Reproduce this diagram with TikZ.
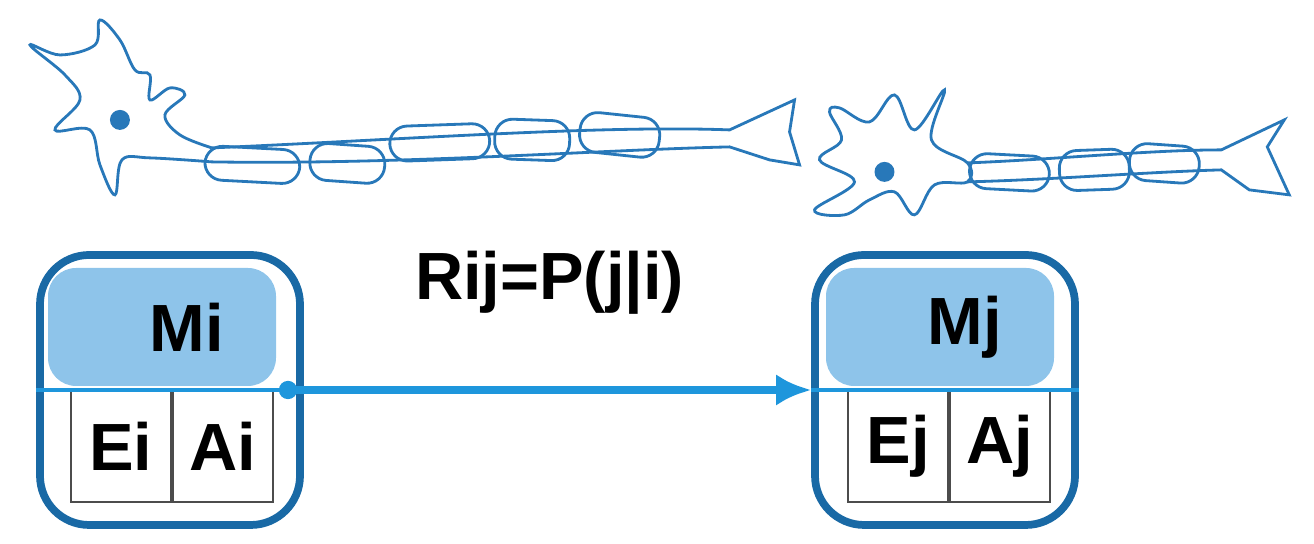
\documentclass[tikz,border=0pt]{standalone}
\usepackage{fontspec}
\setmainfont{Liberation Sans}
\usetikzlibrary{positioning, arrows.meta, calc}
\definecolor{boxblue}{RGB}{25,105,165}
\definecolor{headblue}{RGB}{142,196,234}
\definecolor{arrblue}{RGB}{30,150,220}
\definecolor{nrnblue}{RGB}{40,120,185}
\tikzset{
   outerbox/.style={draw=boxblue, line width=2.2pt, rounded corners=14pt, minimum width=2.6cm, minimum height=2.7cm},
   headbox/.style={fill=headblue, rounded corners=8pt, minimum width=2.28cm, minimum height=1.18cm, font=\bfseries\fontsize{19}{19}\selectfont},
   cellbox/.style={draw=black!70, line width=.5pt, minimum width=1cm, minimum height=1.12cm, inner sep=0pt, font=\bfseries\fontsize{19}{19}\selectfont},
   nrn/.style={draw=nrnblue, line width=.8pt},
   myelin/.style={nrn, rounded corners=5pt}
}
\begin{document}
\begin{tikzpicture}
\useasboundingbox (0,0) rectangle (13.14,5.44);
% neurons, drawn in pixel units
\begin{scope}[shift={(0,5.44)}, x=0.01cm, y=-0.01cm]
  \draw[nrn] plot[smooth, tension=.6] coordinates {(212,148) (180,135) (165,115) (185,95) (170,88) (150,100) (150,75) (135,70) (120,40) (100,20) (95,45) (60,55) (30,45) (65,75) (80,100) (55,130) (90,130) (100,165) (115,195) (122,160) (150,158) (212,162)};
  \fill[nrnblue] (120,120) circle (10);
  \draw[nrn] (212,148) .. controls (400,140) and (600,125) .. (730,130) -- (795,100) -- (790,132) -- (800,165) -- (770,160) -- (730,147) .. controls (600,150) and (400,165) .. (212,162);
  \foreach \xa/\ya/\xb/\yb/\rot in {205/148/300/182/-3, 310/145/385/182/-4, 390/125/490/160/2, 495/120/570/160/-2, 580/115/660/155/-6, 970/155/1050/190/-3, 1060/150/1130/190/2, 1130/145/1200/182/-4}
    \draw[myelin, rotate around={\rot:($(\xa,\ya)!.5!(\xb,\yb)$)}] (\xa,\ya) rectangle (\xb,\yb);
  \draw[nrn] plot[smooth cycle, tension=.6] coordinates {(840,108) (870,122) (895,95) (915,130) (945,90) (932,140) (968,163) (968,182) (935,185) (915,215) (895,192) (870,200) (845,215) (815,210) (855,182) (820,160) (842,140) (830,112)};
  \fill[nrnblue] (885,172) circle (10);
  \draw[nrn] (968,163) .. controls (1050,160) and (1150,150) .. (1222,150) -- (1285,120) -- (1268,147) -- (1290,195) -- (1250,190) -- (1222,170) .. controls (1150,172) and (1050,180) .. (968,182);
\end{scope}
% memory units
\node[outerbox] (bi) at (1.70,1.54) {};
\node[headbox] (mi) at (1.62,2.17) {\hspace*{.5cm}Mi};
\node[cellbox] (ei) at (1.21,0.98) {Ei};
\node[cellbox, right=0pt of ei] (ai) {Ai};
\node[outerbox] (bj) at (9.45,1.54) {};
\node[headbox] (mj) at (9.40,2.17) {\hspace*{.5cm}Mj};
\node[cellbox] (ej) at (8.98,0.98) {Ej};
\node[cellbox, right=0pt of ej] (aj) {Aj};
\draw[arrblue, line width=1pt] (bi.west |- 0,1.54) -- (bi.east |- 0,1.54);
\draw[arrblue, line width=1pt] (bj.west |- 0,1.54) -- (bj.east |- 0,1.54);
\coordinate (src) at (2.88,1.54);
\fill[arrblue] (src) circle (2.6pt);
\draw[arrblue, line width=2.2pt, -{Latex[length=10pt,width=9pt]}] (src) -- (bj.west |- src) node[midway, above=0.6cm, black, font=\bfseries\fontsize{19}{19}\selectfont] (rij) {Rij=P(j|i)};
\end{tikzpicture}
\end{document}
